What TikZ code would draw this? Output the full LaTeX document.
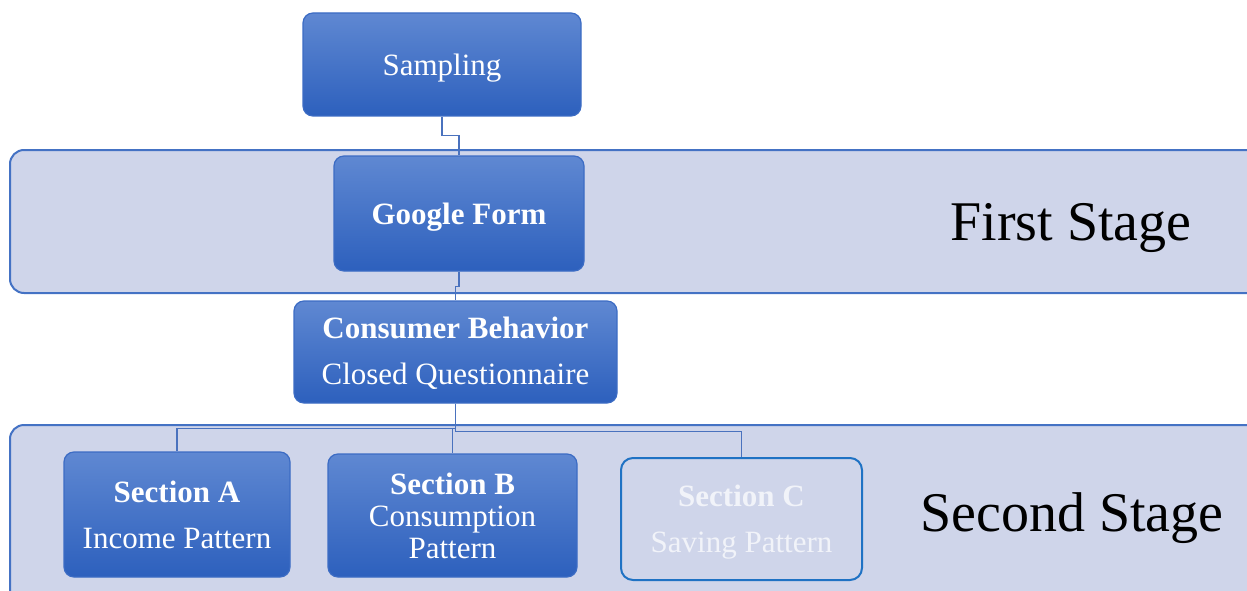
\documentclass[tikz,border=0pt]{standalone}
\usepackage{fontspec}
\setmainfont{Liberation Serif}
\usetikzlibrary{calc}
\definecolor{bandfill}{HTML}{CFD5EA}
\definecolor{bandline}{HTML}{4472C4}
\definecolor{boxtop}{HTML}{5F88D2}
\definecolor{boxbot}{HTML}{2D60BD}
\definecolor{boxline}{HTML}{3C6CC4}
\definecolor{cline}{HTML}{4A72BE}
\definecolor{secline}{HTML}{1F72C4}
\definecolor{fadetext}{HTML}{F1F3F9}
\tikzset{
  band/.style={draw=bandline, line width=2pt, fill=bandfill, rounded corners=14pt},
  bluebox/.style={draw=boxline, line width=1.2pt, rounded corners=10pt, top color=boxtop, bottom color=boxbot,
    text=white, align=center, inner sep=0pt, font=\fontsize{31}{36}\selectfont},
  palebox/.style={draw=secline, line width=2pt, rounded corners=12pt, fill=bandfill,
    text=fadetext, align=center, inner sep=0pt, font=\fontsize{31}{36}\selectfont},
  stagetext/.style={font=\fontsize{56}{62}\selectfont, text=black, inner sep=0pt},
  conn/.style={draw=cline, line width=1.4pt}
}
\begin{document}
\begin{tikzpicture}[x=1pt,y=-1pt]
\useasboundingbox (0,0) rectangle (1247,591);
\begin{scope}
\clip (0,0) rectangle (1247,591);
\draw[band] (10,150) rectangle (1275,293);
\draw[band] (10,425) rectangle (1275,620);
\end{scope}
\node[stagetext] (st1) at (1071,228) {First Stage};
\node[stagetext] (st2) at (1072,518) {Second Stage};

\node[bluebox, minimum width=278pt, minimum height=103pt, text height=29pt, text depth=7pt] (samp) at (442,64.5) {Sampling};
\node[bluebox, minimum width=250pt, minimum height=115pt, text height=28pt, text depth=7pt] (gf) at (459,213.5) {\textbf{Google Form}};
\node[bluebox, minimum width=323pt, minimum height=102pt, text height=71pt] (cb) at (455.5,352) {\textbf{Consumer Behavior}\\[10pt]Closed Questionnaire};
\node[bluebox, minimum width=226pt, minimum height=125pt] (sa) at (177,514.5) {\textbf{Section A}\\[10pt]Income Pattern};
\node[bluebox, minimum width=249pt, minimum height=123pt, font=\fontsize{31}{32}\selectfont] (sb) at (452.5,515.5) {\textbf{Section B}\\Consumption\\Pattern};
\node[palebox, minimum width=241pt, minimum height=122pt, text height=73pt] (sc) at (741.5,519) {\textbf{Section C}\\[10pt]Saving Pattern};

\draw[conn] (samp.south) -- ++(0,19) -| (gf.north);
\draw[conn] (gf.south) -- ++(0,15) -| (cb.north);
\draw[conn] (cb.south) -- ++(0,25) -| (sa.north);
\draw[conn] (cb.south) -- ++(0,25) -| (sb.north);
\draw[conn] (cb.south) -- ++(0,28) -| (sc.north);
\end{tikzpicture}
\end{document}
